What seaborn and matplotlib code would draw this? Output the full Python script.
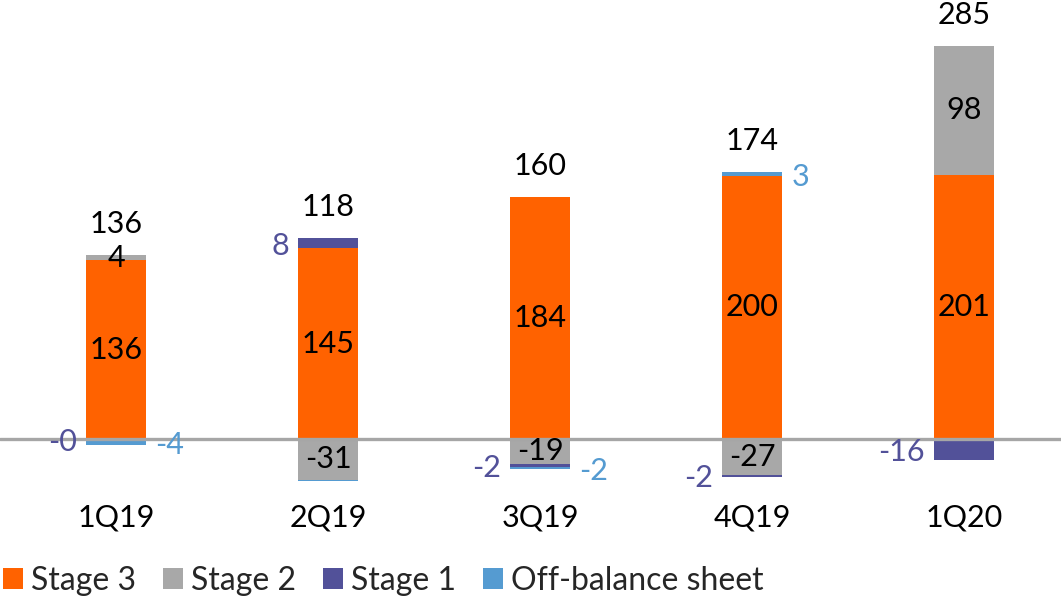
import matplotlib
matplotlib.use("Agg")
import matplotlib.pyplot as plt
from matplotlib.patches import Patch
import numpy as np
import pandas as pd
import seaborn as sns

# ---- data ----
quarters = ["1Q19", "2Q19", "3Q19", "4Q19", "1Q20"]
stage3 = [136, 145, 184, 200, 201]
stage2 = [4, -31, -19, -27, 98]
stage1 = [-0.3, 8, -2, -2, -16]
off_balance = [-4, -1, -2, 3, 0]
totals = [136, 118, 160, 174, 285]
obs_labelled = [True, False, True, True, False]

series_names = ["Stage 3", "Stage 2", "Stage 1", "Off-balance sheet"]
series_vals = [stage3, stage2, stage1, off_balance]
colors = ["#FF6200", "#A8A8A8", "#525199", "#559BD1"]

sns.set_theme(style="white")
plt.rcParams["font.family"] = ["Lato", "DejaVu Sans"]

W, H = 1061, 596
fig = plt.figure(figsize=(W / 100, H / 100), dpi=100)
ax_bottom_px = 495
ax = fig.add_axes([0, (H - ax_bottom_px) / H, 1, ax_bottom_px / H])

zero_px = 439
scale = 1.315
bw = 0.28

pos_base = np.zeros(len(quarters))
neg_base = np.zeros(len(quarters))
segments = []  # (series index, quarter index, bottom, value)
for si, vals in enumerate(series_vals):
    vals = np.array(vals, dtype=float)
    bottoms = np.where(vals >= 0, pos_base, neg_base)
    df = pd.DataFrame({"q": quarters, "v": vals})
    sns.barplot(data=df, x="q", y="v", bottom=bottoms, color=colors[si],
                width=bw, errorbar=None, ax=ax, linewidth=0, saturation=1,
                zorder=2)
    for qi, (b, v) in enumerate(zip(bottoms, vals)):
        segments.append((si, qi, b, v))
    pos_base = np.where(vals >= 0, pos_base + vals, pos_base)
    neg_base = np.where(vals < 0, neg_base + vals, neg_base)

ax.set_xlim(-116 / 212, 4 + (W - 964) / 212)
ax.set_ylim(-(ax_bottom_px - zero_px) / scale, zero_px / scale)
ax.axhline(0, color="#A6A6A6", lw=2.4, zorder=3)

fs = 22
for si, qi, b, v in segments:
    mid = b + v / 2
    txt = f"{v:.0f}"
    if si in (0, 1):
        ax.text(qi, mid, txt, ha="center", va="center", fontsize=fs,
                color="black", zorder=4)
    elif si == 2:
        ax.text(qi - bw / 2 - 0.045, mid - 2, txt, ha="right", va="center",
                fontsize=fs, color=colors[2], zorder=4)
    elif si == 3 and obs_labelled[qi]:
        ax.text(qi + bw / 2 + 0.045, mid - 2, txt, ha="left", va="center",
                fontsize=fs, color=colors[3], zorder=4)

for qi, t in enumerate(totals):
    ax.annotate(f"{t}", (qi, pos_base[qi]), xytext=(0, 22),
                textcoords="offset points", ha="center", va="center",
                fontsize=fs, color="black", annotation_clip=False)

for s in ax.spines.values():
    s.set_visible(False)
ax.set_yticks([])
ax.set_xlabel("")
ax.set_ylabel("")
ax.tick_params(axis="x", length=0, pad=6, labelsize=fs, colors="black")

handles = [Patch(facecolor=c, edgecolor="none") for c in colors]
fig.legend(handles, series_names, loc="lower left", bbox_to_anchor=(0, -0.005),
           ncol=4, frameon=False, fontsize=23, handlelength=0.62,
           handleheight=0.65, handletextpad=0.25, columnspacing=0.85,
           borderaxespad=0, borderpad=0.1)

fig.savefig("out.png", dpi=100)
